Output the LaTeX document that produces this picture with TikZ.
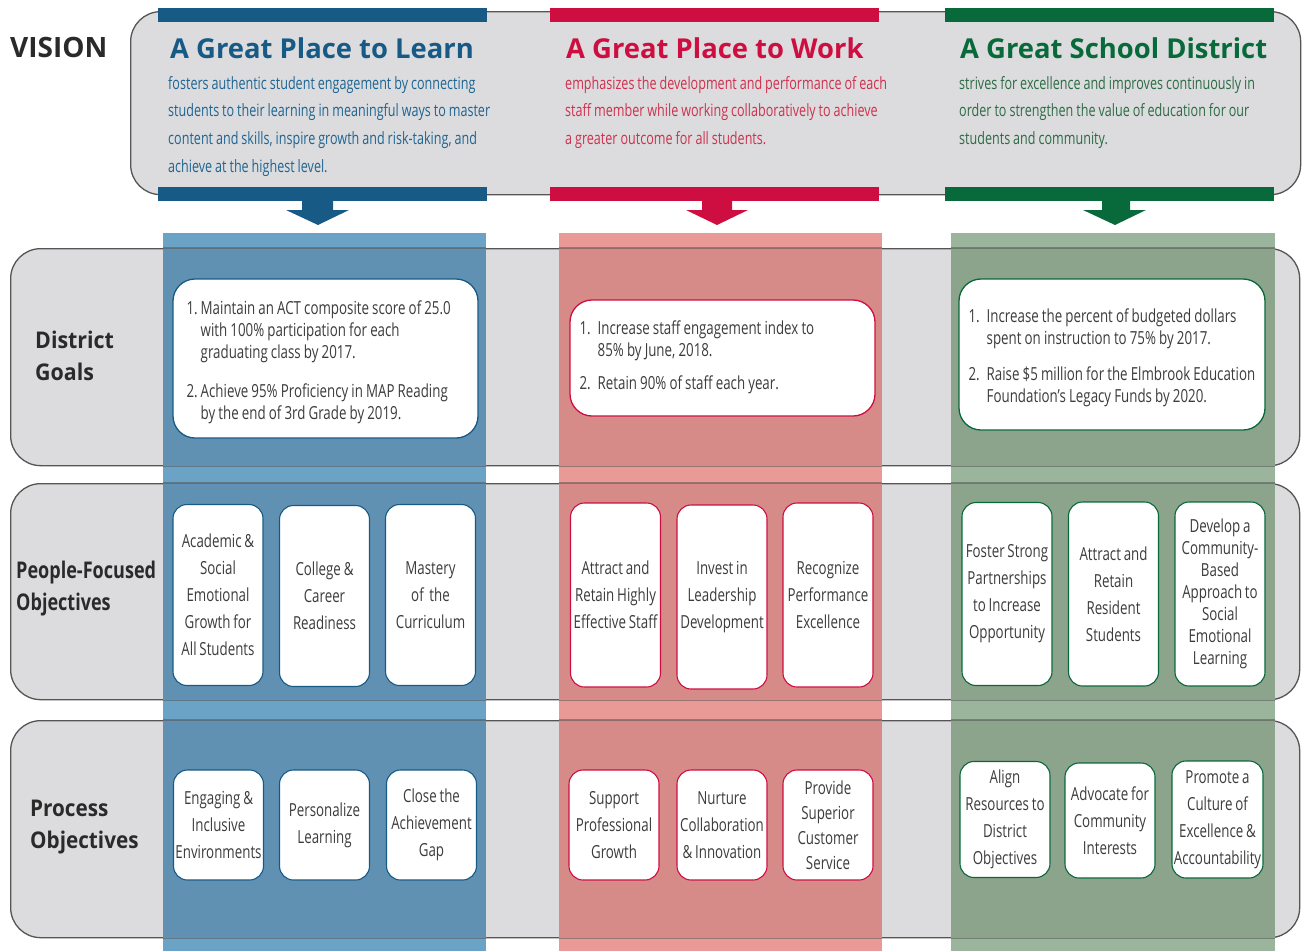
\documentclass[tikz,border=0pt]{standalone}
\usepackage{fontspec}
\usepackage{graphicx}
\setmainfont{Open Sans}
\newfontfamily\cnd[FakeStretch=0.74,WordSpace=0.8]{Open Sans}
\newfontfamily\cndgoal[FakeStretch=0.74,WordSpace=0.9]{Open Sans}

\definecolor{blueDark}{HTML}{165A85}
\definecolor{redDark}{HTML}{CE0E40}
\definecolor{greenDark}{HTML}{08693A}
\definecolor{blueText}{HTML}{1E6592}
\definecolor{redText}{HTML}{D0304E}
\definecolor{greenText}{HTML}{2D6B45}
\definecolor{bluePanel}{HTML}{6AA3C6}
\definecolor{redPanel}{HTML}{EA9A96}
\definecolor{greenPanel}{HTML}{9BB59C}
\definecolor{blueDeep}{HTML}{6191B2}
\definecolor{redDeep}{HTML}{D78B89}
\definecolor{greenDeep}{HTML}{8CA38C}
\definecolor{rowFill}{HTML}{DCDCDE}
\definecolor{rowLine}{HTML}{555555}
\definecolor{labelText}{HTML}{2A2A2A}
\definecolor{boxText}{HTML}{3C3C3C}

\begin{document}
\begin{tikzpicture}[x=1pt,y=-1pt,
  rowbox/.style={draw=rowLine, fill=rowFill, line width=1.3pt, rounded corners=30pt,
    inner sep=0pt, anchor=north west},
  bar/.style={fill=#1, draw=none, minimum width=329, minimum height=14,
    inner sep=0pt, outer sep=0pt, anchor=north west},
  title/.style={font=\bfseries\fontsize{27.4}{30}\selectfont, anchor=base west, inner sep=0pt},
  body/.style={font=\cnd\fontsize{17}{27.6}\selectfont, align=left, anchor=north west, inner sep=0pt},
  panel/.style={fill=#1, draw=none, minimum width=323, minimum height=718,
    inner sep=0pt, anchor=north west},
  rowlabel/.style={font=\bfseries\fontsize{23}{32}\selectfont, text=labelText,
    align=left, anchor=north west, inner sep=0pt},
  goalbox/.style={draw=#1, fill=white, line width=1.3pt, rounded corners=22pt, inner sep=0pt},
  goaltext/.style={align=left, anchor=west, inner sep=0pt, text=boxText,
    font=\cndgoal\fontsize{18}{22}\selectfont},
  objbox/.style={draw=#1, fill=white, line width=1.1pt, rounded corners=14pt,
    minimum width=90, inner sep=0pt, align=center, text=boxText,
    font=\cnd\fontsize{18}{27}\selectfont},
  objtight/.style={font=\cnd\fontsize{18}{22}\selectfont},
  objmid/.style={font=\cnd\fontsize{18}{25}\selectfont}
]
\useasboundingbox (0,0) rectangle (1304,951);

% ---------- vision band ----------
\node[rowbox, minimum width=1170, minimum height=183] (visionrow) at (130,11) {};

\node[bar=blueDark]  (barLtop) at (158,8) {};
\node[bar=blueDark]  (barLbot) at (158,187) {};
\node[bar=redDark]   (barWtop) at (550,8) {};
\node[bar=redDark]   (barWbot) at (550,187) {};
\node[bar=greenDark] (barDtop) at (945,8) {};
\node[bar=greenDark] (barDbot) at (945,187) {};

% downward block arrows under each vision column
\fill[blueDark]  (302,200) -- (333,200) -- (333,210) -- (349,210) -- (318,225) -- (286,210) -- (302,210) -- cycle;
\fill[redDark]   (702,200) -- (732,200) -- (732,210) -- (748,210) -- (717,225) -- (686,210) -- (702,210) -- cycle;
\fill[greenDark] (1102,200) -- (1130,200) -- (1130,210) -- (1146,210) -- (1115,225) -- (1083,210) -- (1102,210) -- cycle;

\node[font=\bfseries\fontsize{28}{30}\selectfont, text=labelText, anchor=base west, inner sep=0pt]
  (vision) at (10,57) {VISION};

\node[title, text=blueDark]  (titleL) at (170,58) {A Great Place to Learn};
\node[title, text=redDark]   (titleW) at (566,58) {A Great Place to Work};
\node[title, text=greenDark] (titleD) at (960,58) {A Great School District};

\node[body, text=blueText] (bodyL) at (168,76)
  {fosters authentic student engagement by connecting\\
   students to their learning in meaningful ways to master\\
   content and skills, inspire growth and risk-taking, and\\
   achieve at the highest level.};
\node[body, text=redText] (bodyW) at (565,76)
  {emphasizes the development and performance of each\\
   staff member while working collaboratively to achieve\\
   a greater outcome for all students.};
\node[body, text=greenText] (bodyD) at (959,76)
  {strives for excellence and improves continuously in\\
   order to strengthen the value of education for our\\
   students and community.};

% ---------- objective rows ----------
\node[rowbox, minimum width=1289, minimum height=217] (goalsrow)   at (10,248) {};
\node[rowbox, minimum width=1289, minimum height=216] (peoplerow)  at (10,483) {};
\node[rowbox, minimum width=1289, minimum height=217] (processrow) at (10,720) {};

% column panels: light where they stand free, deeper where they cross a row
\node[panel=bluePanel]  (panelL) at (163,233) {};
\node[panel=redPanel]   (panelW) at (559,233) {};
\node[panel=greenPanel, minimum width=324] (panelD) at (951,233) {};
\foreach \p/\c in {panelL/blueDeep, panelW/redDeep, panelD/greenDeep} {
  \foreach \r in {goalsrow, peoplerow, processrow} {
    \fill[\c] (\p.west |- \r.north) rectangle (\p.east |- \r.south);
    \draw[rowLine, opacity=0.55, line width=1.3pt]
      (\p.west |- \r.north) -- (\p.east |- \r.north)
      (\p.west |- \r.south) -- (\p.east |- \r.south);
  }
}

\node[rowlabel] (lblgoals) at (35,331)
  {\scalebox{0.93}[1]{District}\\\scalebox{0.93}[1]{Goals}};
\node[rowlabel] (lblpeople) at (16,561)
  {\scalebox{0.785}[1]{People-Focused}\\\scalebox{0.785}[1]{Objectives}};
\node[rowlabel] (lblprocess) at (30,800)
  {\scalebox{0.9}[1]{Process}\\\scalebox{0.9}[1]{Objectives}};

% ---------- district goals ----------
\node[goalbox=blueDark, minimum width=305, minimum height=159] (goalL) at (325.5,358.5) {};
\node[goaltext] (goalLtxt) at ([xshift=14pt,yshift=-4pt]goalL.west)
  {\begin{tabular}{@{}l@{\hspace{3pt}}l@{}}
   1. & Maintain an ACT composite score of 25.0\\
      & with 100\% participation for each\\
      & graduating class by 2017.\\[17pt]
   2. & Achieve 95\% Proficiency in MAP Reading\\
      & by the end of 3rd Grade by 2019.
   \end{tabular}};

\node[goalbox=redDark, minimum width=305, minimum height=116] (goalW) at (722.5,358) {};
\node[goaltext] (goalWtxt) at ([xshift=10pt]goalW.west)
  {\begin{tabular}{@{}l@{\hspace{7pt}}l@{}}
   1. & Increase staff engagement index to\\
      & 85\% by June, 2018.\\[11pt]
   2. & Retain 90\% of staff each year.
   \end{tabular}};

\node[goalbox=greenDark, minimum width=306, minimum height=151] (goalD) at (1112,354.5) {};
\node[goaltext] (goalDtxt) at ([xshift=10pt,yshift=-4pt]goalD.west)
  {\begin{tabular}{@{}l@{\hspace{7pt}}l@{}}
   1. & Increase the percent of budgeted dollars\\
      & spent on instruction to 75\% by 2017.\\[14pt]
   2. & Raise \$5 million for the Elmbrook Education\\
      & Foundation’s Legacy Funds by 2020.
   \end{tabular}};

% ---------- people-focused objectives ----------
\node[objbox=blueDark, minimum height=181] (pL1) at (218,595)   {Academic \&\\Social\\Emotional\\Growth for\\All Students};
\node[objbox=blueDark, minimum height=181] (pL2) at (324.5,596) {College \&\\Career\\Readiness};
\node[objbox=blueDark, minimum height=181] (pL3) at (430.5,595) {Mastery\\of\ \ the\\Curriculum};

\node[objbox=redDark, minimum height=184] (pW1) at (615.5,595) {Attract and\\Retain Highly\\Effective Staff};
\node[objbox=redDark, minimum height=184] (pW2) at (722,597)   {Invest in\\Leadership\\Development};
\node[objbox=redDark, minimum height=184] (pW3) at (828,595)   {Recognize\\Performance\\Excellence};

\node[objbox=greenDark, minimum height=183] (pD1) at (1007,594)   {Foster Strong\\Partnerships\\to Increase\\Opportunity};
\node[objbox=greenDark, minimum height=184] (pD2) at (1113.5,594) {Attract and\\Retain\\Resident\\Students};
\node[objbox=greenDark, objtight, minimum height=184] (pD3) at (1220,594)
  {Develop a\\Community-\\Based\\Approach to\\Social\\Emotional\\Learning};

% ---------- process objectives ----------
\node[objbox=blueDark, minimum height=110] (rL1) at (218.5,825) {Engaging \&\\Inclusive\\Environments};
\node[objbox=blueDark, minimum height=110] (rL2) at (324.5,825) {Personalize\\Learning};
\node[objbox=blueDark, minimum height=110] (rL3) at (431.5,825) {Close the\\Achievement\\Gap};

\node[objbox=redDark, minimum height=110] (rW1) at (614,825) {Support\\Professional\\Growth};
\node[objbox=redDark, minimum height=110] (rW2) at (722,825) {Nurture\\Collaboration\\\& Innovation};
\node[objbox=redDark, objmid, minimum height=110] (rW3) at (828,825) {Provide\\Superior\\Customer\\Service};

\node[objbox=greenDark, minimum height=116] (rD1) at (1005,819.5)   {Align\\Resources to\\District\\Objectives};
\node[objbox=greenDark, minimum height=115] (rD2) at (1110,820.5)   {Advocate for\\Community\\Interests};
\node[objbox=greenDark, minimum height=117, minimum width=91] (rD3) at (1217.5,819.5) {Promote a\\Culture of\\Excellence \&\\Accountability};

\end{tikzpicture}
\end{document}
